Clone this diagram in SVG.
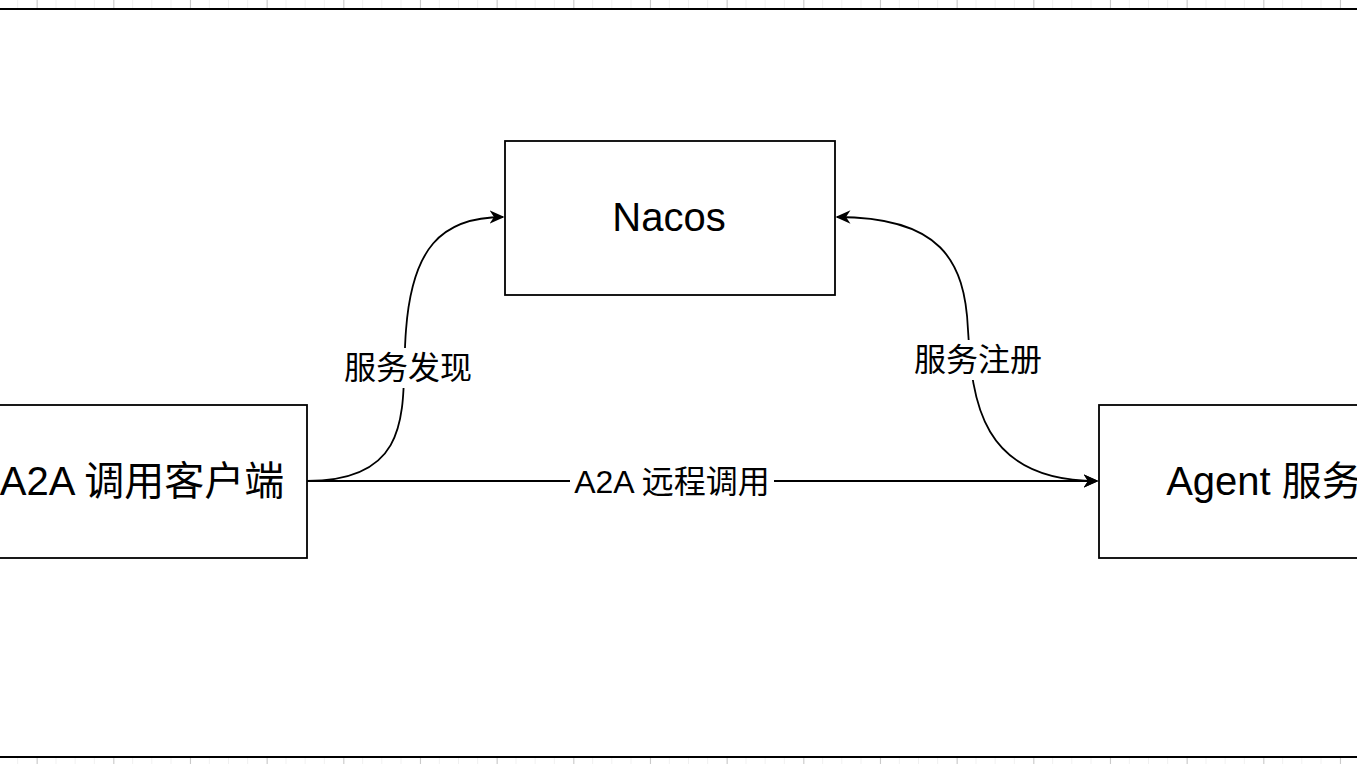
<svg xmlns="http://www.w3.org/2000/svg" width="1357" height="764" viewBox="0 0 1357 764">
<defs>
<pattern id="gmin" width="19.1667" height="764" patternUnits="userSpaceOnUse" x="-2"><line x1="0.5" y1="0" x2="0.5" y2="764" stroke="#f0f0f0" stroke-width="1"/></pattern>
<pattern id="gmaj" width="76.667" height="764" patternUnits="userSpaceOnUse" x="36.7"><line x1="0.5" y1="0" x2="0.5" y2="764" stroke="#c8c8c8" stroke-width="1"/></pattern>
<marker id="ah" viewBox="0 0 10 10" refX="9" refY="5" markerWidth="15" markerHeight="15" markerUnits="userSpaceOnUse" orient="auto-start-reverse"><path d="M0,0.5 L10,5 L0,9.5 L3,5 Z" fill="#000"/></marker>
<style>
.box{fill:#fff;stroke:#000;stroke-width:1.8}
.t{font-family:"Helvetica","Liberation Sans","Noto Sans CJK SC",sans-serif;fill:#000;text-anchor:middle;dominant-baseline:central}
.c{fill:none;stroke:#000;stroke-width:1.8}
.lbl{fill:#fff}
</style>
</defs>
<rect width="1357" height="764" fill="#fff"/>
<rect x="0" y="0" width="1357" height="8" fill="url(#gmin)"/>
<rect x="0" y="0" width="1357" height="8" fill="url(#gmaj)"/>
<rect x="0" y="758" width="1357" height="6" fill="url(#gmin)"/>
<rect x="0" y="758" width="1357" height="6" fill="url(#gmaj)"/>
<rect x="0" y="8" width="1357" height="2" fill="#000"/>
<rect x="0" y="756" width="1357" height="2" fill="#000"/>
<g id="connectors">
<path class="c" d="M307,481 C420,481 400,400 406,330 C412,250 440,217 503,217" marker-end="url(#ah)"/>
<path class="c" d="M837,217 C940,217 965,260 968,330 C972,400 980,481 1097,481" marker-start="url(#ah)" marker-end="url(#ah)"/>
<path class="c" d="M307,481 L1097,481" marker-end="url(#ah)"/>
<rect class="lbl" x="340" y="348" width="136" height="40"/>
<text class="t" x="408" y="368" font-size="32">服务发现</text>
<rect class="lbl" x="910" y="340" width="136" height="40"/>
<text class="t" x="978" y="360" font-size="32">服务注册</text>
<rect class="lbl" x="570" y="465" width="204" height="34"/>
<text class="t" x="672" y="482" font-size="32">A2A 远程调用</text>
</g>
<g id="nacos"><rect class="box" x="505" y="141" width="330" height="154"/><text class="t" x="669" y="217" font-size="40">Nacos</text></g>
<g id="client"><rect class="box" x="-30" y="405" width="337" height="153"/><text class="t" x="142" y="481" font-size="40">A2A 调用客户端</text></g>
<g id="agent"><rect class="box" x="1099" y="405" width="330" height="153"/><text class="t" x="1264" y="481" font-size="40">Agent 服务</text></g>
</svg>
